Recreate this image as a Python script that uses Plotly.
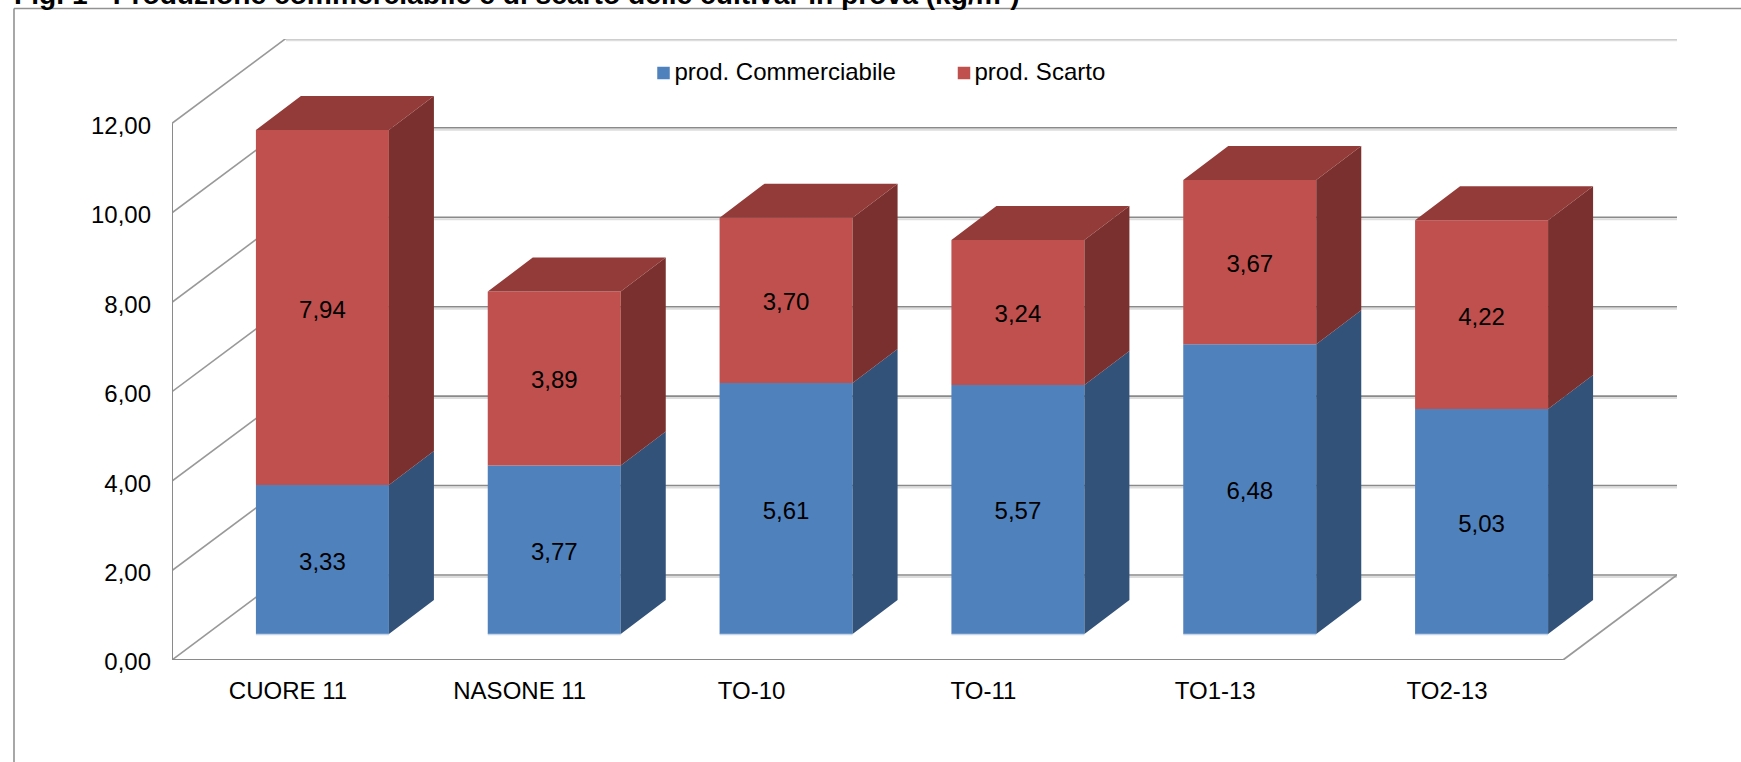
import plotly.graph_objects as go

categories = ["CUORE 11", "NASONE 11", "TO-10", "TO-11", "TO1-13", "TO2-13"]
commerciabile = [3.33, 3.77, 5.61, 5.57, 6.48, 5.03]
scarto = [7.94, 3.89, 3.70, 3.24, 3.67, 4.22]
y_ticks = [0, 2, 4, 6, 8, 10, 12]
y_tick_labels = ["0,00", "2,00", "4,00", "6,00", "8,00", "10,00", "12,00"]

W, H = 1741, 762
L, R, T, B = 172, 1677, 39, 660
XS = (1563 - 172) / 6      # px per category
YS = 44.72                 # px per unit
WALL_DX, WALL_DY = 114 / XS, 85 / YS
OFF_X, OFF_Y = 34.5 / XS, 26 / YS
DEP_X, DEP_Y = 45 / XS, 34 / YS
BAR_W = 133 / XS
FONT = "Liberation Sans"
SIZE = 24
GRID = "#8a8a8a"
x_left = -0.5
x_right = x_left + len(categories)


def comma(v):
    return f"{v:.2f}".replace(".", ",")


def px(x):
    return (x - L) / (R - L)


def py(y):
    return (B - y) / (B - T)


fig = go.Figure()
shapes = []


def line(x0, y0, x1, y1, color=GRID, width=1.6):
    shapes.append(dict(type="line", xref="x", yref="y", x0=x0, y0=y0, x1=x1, y1=y1,
                       layer="below", line=dict(color=color, width=width)))


for v in y_ticks:
    # back wall line with its soft shadow, then the side wall diagonal
    line(x_left + WALL_DX, v + WALL_DY - 2 / YS, x_right + WALL_DX, v + WALL_DY - 2 / YS, "#dddddd", 2)
    line(x_left + WALL_DX, v + WALL_DY, x_right + WALL_DX, v + WALL_DY)
    line(x_left, v, x_left + WALL_DX, v + WALL_DY, "#999999", 1.6)
line(x_left, 0, x_left, y_ticks[-1], width=2)
line(x_left, 0, x_right, 0, width=2.2)
line(x_right, 0, x_right + WALL_DX, WALL_DY, "#999999", 1.8)

# frame
shapes.append(dict(type="line", xref="paper", yref="paper", x0=px(14), x1=px(W), y0=py(8.5), y1=py(8.5),
                   line=dict(color="#929292", width=1.6)))
shapes.append(dict(type="line", xref="paper", yref="paper", x0=px(14), x1=px(14), y0=py(8.5), y1=py(H),
                   line=dict(color="#929292", width=1.6)))

xs = [i + OFF_X for i in range(len(categories))]
base_scarto = [OFF_Y + c for c in commerciabile]

fig.add_bar(x=xs, y=commerciabile, base=[OFF_Y] * len(xs), width=BAR_W, name="prod. Commerciabile",
            marker=dict(color="#4F81BD", line=dict(width=0)), hoverinfo="skip", showlegend=False)
fig.add_bar(x=xs, y=scarto, base=base_scarto, width=BAR_W, name="prod. Scarto",
            marker=dict(color="#C0504D", line=dict(width=0)), hoverinfo="skip", showlegend=False)

for x in xs:
    shapes.append(dict(type="line", xref="x", yref="y", x0=x - BAR_W / 2, x1=x + BAR_W / 2,
                       y0=OFF_Y - 0.5 / YS, y1=OFF_Y - 0.5 / YS, line=dict(color="#C6D6EA", width=1.5)))


def polygons(faces, color):
    px_, py_ = [], []
    for face in faces:
        px_ += [p[0] for p in face] + [face[0][0], None]
        py_ += [p[1] for p in face] + [face[0][1], None]
    fig.add_scatter(x=px_, y=py_, mode="lines", fill="toself", fillcolor=color,
                    line=dict(width=0, color=color), hoverinfo="skip", showlegend=False)


def side(x, b, t):
    r = x + BAR_W / 2
    return [(r, b), (r + DEP_X, b + DEP_Y), (r + DEP_X, t + DEP_Y), (r, t)]


def roof(x, t):
    l, r = x - BAR_W / 2, x + BAR_W / 2
    return [(l, t), (r, t), (r + DEP_X, t + DEP_Y), (l + DEP_X, t + DEP_Y)]


polygons([side(x, OFF_Y, b) for x, b in zip(xs, base_scarto)], "#335279")
polygons([side(x, b, b + s) for x, b, s in zip(xs, base_scarto, scarto)], "#7A302E")
polygons([roof(x, b + s) for x, b, s in zip(xs, base_scarto, scarto)], "#933B38")

# value labels, sitting a little below each segment's middle
LABEL_DROP = 4 / YS
fig.add_scatter(x=xs + xs,
                y=[OFF_Y + c / 2 - LABEL_DROP for c in commerciabile] + [b + s / 2 - LABEL_DROP for b, s in zip(base_scarto, scarto)],
                mode="text", text=[comma(v) for v in commerciabile + scarto], textposition="middle center",
                textfont=dict(size=SIZE, color="black", family=FONT), hoverinfo="skip", showlegend=False)

# legend keys placed on the back wall
leg_y = (B - 73) / YS
for name, color, xpos, xtext in [("prod. Commerciabile", "#4F81BD", 663.5, 674.5), ("prod. Scarto", "#C0504D", 964, 974.5)]:
    fig.add_scatter(x=[x_left + (xpos - L) / XS], y=[leg_y], mode="markers", cliponaxis=False,
                    marker=dict(symbol="square", size=12.5, color=color, line=dict(width=0)),
                    hoverinfo="skip", showlegend=False)
    fig.add_scatter(x=[x_left + (xtext - L) / XS], y=[leg_y - 1 / YS], mode="text", text=[name],
                    textposition="middle right", cliponaxis=False,
                    textfont=dict(size=SIZE, color="black", family=FONT), hoverinfo="skip", showlegend=False)

fig.add_annotation(xref="paper", yref="paper", x=px(13), y=py(11), xanchor="left", yanchor="bottom",
                   text="<b>Fig. 1 - Produzione commerciabile e di scarto delle cultivar in prova (kg/m²)</b>",
                   showarrow=False, align="left", borderpad=0, font=dict(size=28.2, color="black", family=FONT))

fig.update_layout(
    width=W, height=H, margin=dict(l=L, r=W - R, t=T, b=H - B, pad=0, autoexpand=False),
    paper_bgcolor="white", plot_bgcolor="white", barmode="overlay", showlegend=False,
    font=dict(family=FONT, size=SIZE, color="black"), shapes=shapes,
    xaxis=dict(range=[x_left, x_right + WALL_DX], tickmode="array", tickvals=list(range(len(categories))),
               ticktext=categories, showgrid=False, zeroline=False, showline=False, ticks="",
               ticklabelstandoff=14, tickangle=0),
    yaxis=dict(range=[0, (B - T) / YS], tickmode="array", tickvals=y_ticks, ticktext=y_tick_labels,
               showgrid=False, zeroline=False, showline=False, ticks="", ticklabelstandoff=20,
               ticklabelshift=2),
)

fig.write_html("out.html", config={"displayModeBar": False},
               post_script="document.body.style.margin='0';document.documentElement.style.overflow='hidden';")
